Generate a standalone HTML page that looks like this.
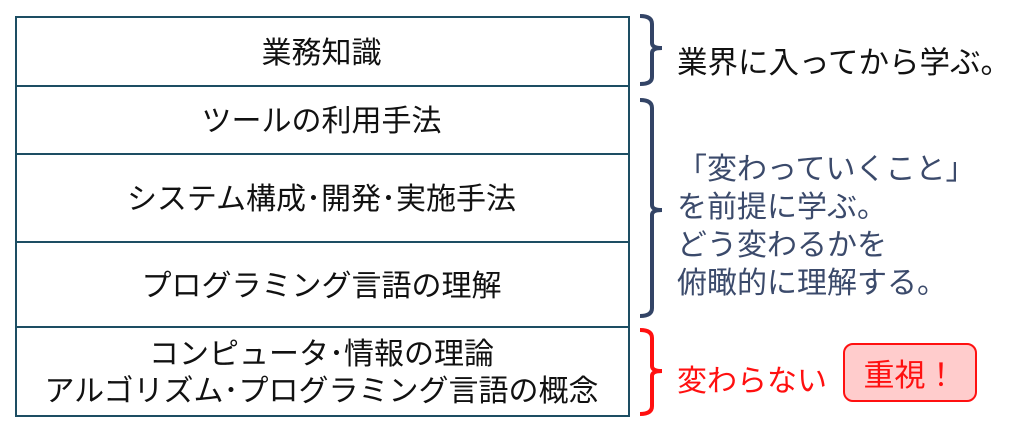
<!DOCTYPE html>
<html><head><meta charset="utf-8"><style>
body{margin:0;width:1024px;height:423px;background:#fff;overflow:hidden;position:relative;font-family:"Liberation Sans","Noto Sans CJK JP",sans-serif}
.row{position:absolute;left:16px;width:611px;display:flex;align-items:center;justify-content:center;text-align:center;font-size:30px;color:#111;line-height:37px;padding-top:3px;box-sizing:border-box}
.t{position:absolute;font-size:30px;white-space:nowrap}
</style></head><body>
<div style="position:absolute;left:15px;top:16px;width:611px;height:397px;border:2px solid #1d4e63"></div>
<div style="position:absolute;left:15px;top:85px;width:613px;height:2px;background:#1d4e63"></div>
<div style="position:absolute;left:15px;top:153px;width:613px;height:2px;background:#1d4e63"></div>
<div style="position:absolute;left:15px;top:241px;width:613px;height:2px;background:#1d4e63"></div>
<div style="position:absolute;left:15px;top:326px;width:613px;height:2px;background:#1d4e63"></div>
<div class="row" style="top:18px;height:67px">業務知識</div>
<div class="row" style="top:87px;height:66px">ツールの利用手法</div>
<div class="row" style="top:155px;height:86px">システム構成･開発･実施手法</div>
<div class="row" style="top:243px;height:83px">プログラミング言語の理解</div>
<div class="row" style="top:328px;height:86px">コンピュータ･情報の理論<br>アルゴリズム･プログラミング言語の概念</div>
<svg width="1024" height="423" style="position:absolute;left:0;top:0">
<path d="M640 16 Q652 16 652 24 L652 43 Q652 48 662 48 Q652 48 652 53 L652 77 Q652 84 640 84" fill="none" stroke="#334466" stroke-width="4"/>
<path d="M640 100 Q652 100 652 108 L652 205 Q652 210 662 210 Q652 210 652 215 L652 308 Q652 316 640 316" fill="none" stroke="#334466" stroke-width="4"/>
<path d="M640 330 Q652 330 652 338 L652 366 Q652 371 662 371 Q652 371 652 376 L652 406 Q652 414 640 414" fill="none" stroke="#ff1010" stroke-width="4"/>
</svg>
<div class="t" style="left:677px;top:38px;color:#111;font-size:30.5px">業界に入ってから学ぶ。</div>
<div class="t" style="left:677px;top:151px;color:#3b4a6b;line-height:38px;font-size:30px">「変わっていくこと」<br>を前提に学ぶ。<br>どう変わるかを<br>俯瞰的に理解する。</div>
<div class="t" style="left:677px;top:356px;color:#ff1010;font-size:30px">変わらない</div>
<div style="position:absolute;left:843px;top:343px;width:134px;height:59px;box-sizing:border-box;border:2px solid #ff1010;border-radius:10px;background:#ffcccc;color:#ff1010;font-size:31px;display:flex;align-items:center;justify-content:center">重視！</div>
</body></html>
